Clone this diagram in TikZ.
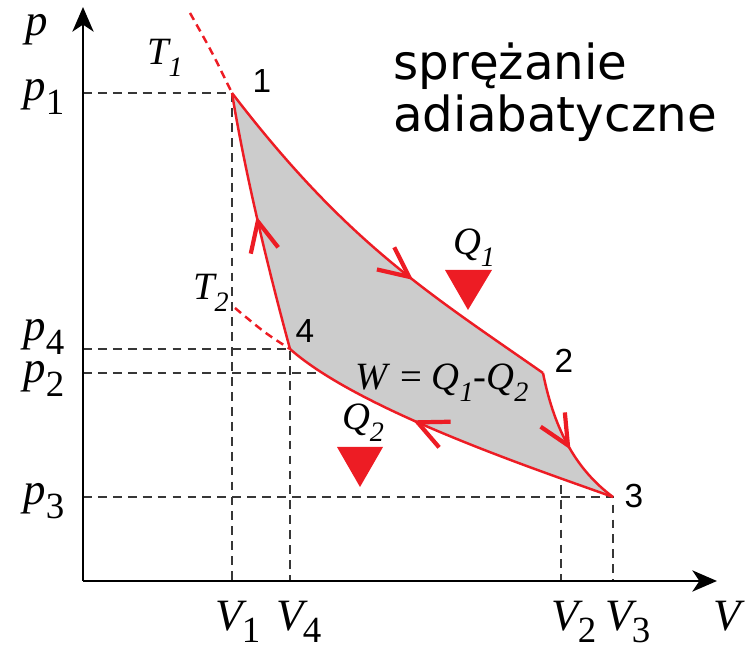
\documentclass[tikz,border=0pt]{standalone}
\usepackage{fontspec}
\setmainfont{Liberation Serif}
\newfontfamily\numfont{Liberation Sans}
\newfontfamily\notefont{DejaVu Sans}
\usetikzlibrary{arrows.meta,decorations.markings}
\definecolor{cyclered}{RGB}{237,28,36}
\definecolor{cyclefill}{RGB}{204,204,204}
\definecolor{guidegray}{RGB}{55,55,55}
\newcommand\axlbl[2]{\textit{#1}\raisebox{-7.5pt}{\fontsize{21}{21}\selectfont #2}}
\newcommand\vollbl[2]{\textit{#1}\kern-3pt\raisebox{-6.5pt}{\fontsize{21}{21}\selectfont #2}}
\newcommand\itlbl[2]{\textit{#1\raisebox{-6.5pt}{\fontsize{16}{16}\selectfont #2}}}
\begin{document}
\begin{tikzpicture}[
  x=0.02cm, y=-0.02cm,
  axis/.style={line width=1.7pt, -{Stealth[length=14pt,width=12pt,inset=4pt]}},
  guide/.style={draw=guidegray, line width=0.8pt, dash pattern=on 5pt off 3.5pt},
  iso/.style={draw=cyclered, line width=1.4pt, dash pattern=on 4.5pt off 3pt},
  leg/.style={draw=cyclered, line width=1.4pt},
  midarrow/.style={postaction={decorate, decoration={markings, mark=at position #1 with {\arrow{Straight Barb[length=17pt,width=16pt,line width=2.4pt,color=cyclered]}}}}},
  axlabel/.style={anchor=base, inner sep=0pt, font=\fontsize{25.5}{25.5}\selectfont},
  sym/.style={anchor=base, inner sep=0pt, font=\fontsize{22}{22}\selectfont},
  num/.style={anchor=base, inner sep=0pt, font=\numfont\fontsize{19}{19}\selectfont},
  note/.style={anchor=base west, inner sep=0pt, font=\notefont\fontsize{27.5}{27.5}\selectfont},
  heat/.style={fill=cyclered}
]
\useasboundingbox (0,0) rectangle (745,648);

\coordinate (O) at (83,581);
\coordinate (ytip) at (83,7);
\coordinate (xtip) at (717,581);
\coordinate (1) at (232,93);
\coordinate (2) at (543,373);
\coordinate (3) at (613,497);
\coordinate (4) at (290,349);
\coordinate (v2top) at (561,440);
\coordinate (t1end) at (190,13);
\coordinate (t2end) at (235,308);

\draw[guide] (O |- 1) -- (1) -- (1 |- O);
\draw[guide] (O |- 4) -- (4) -- (4 |- O);
\draw[guide] (O |- 2) -- (2);
\draw[guide] (O |- 3) -- (3) -- (3 |- O);
\draw[guide] (v2top) -- (v2top |- O);

\fill[cyclefill] (1) .. controls (347,243) and (427,292) .. (2)
  .. controls (555,433) and (578,471) .. (3)
  .. controls (541,471) and (360,411) .. (4)
  .. controls (268,268) and (245,173) .. (1) -- cycle;

\draw[leg, midarrow=0.62] (1) .. controls (347,243) and (427,292) .. (2);
\draw[leg, midarrow=0.56] (2) .. controls (555,433) and (578,471) .. (3);
\draw[leg, midarrow=0.6] (3) .. controls (541,471) and (360,411) .. (4);
\draw[leg, midarrow=0.52] (4) .. controls (268,268) and (245,173) .. (1);
\draw[iso] (t1end) .. controls (212,52) .. (1);
\draw[iso] (t2end) .. controls (265,333) .. (4);

\draw[axis] (O) -- (ytip);
\draw[axis] (O) -- (xtip);

\fill[heat] (445,270) -- (492,270) -- (468,310) -- cycle;
\fill[heat] (337,447) -- (383,447) -- (360,487) -- cycle;

\node[axlabel] (plbl) at (37,36) {\textit{p}};
\node[axlabel] (p1lbl) at (44,101) {\axlbl{p}{1}};
\node[axlabel] (p4lbl) at (44,341) {\axlbl{p}{4}};
\node[axlabel] (p2lbl) at (44,383) {\axlbl{p}{2}};
\node[axlabel] (p3lbl) at (44,505) {\axlbl{p}{3}};
\node[axlabel] (v1lbl) at (238,631) {\vollbl{V}{1}};
\node[axlabel] (v4lbl) at (299,631) {\vollbl{V}{4}};
\node[axlabel] (v2lbl) at (574,631) {\vollbl{V}{2}};
\node[axlabel] (v3lbl) at (628,631) {\vollbl{V}{3}};
\node[axlabel] (vlbl) at (729,631) {\textit{V}};

\node[sym] (t1lbl) at (165,65) {\itlbl{T}{1}};
\node[sym] (t2lbl) at (211,300) {\itlbl{T}{2}};
\node[sym] (q1lbl) at (474,255) {\itlbl{Q}{1}};
\node[sym] (q2lbl) at (363,430) {\itlbl{Q}{2}};
\node[sym] (work) at (442,390) {\textit{W} = \itlbl{Q}{1}-\itlbl{Q}{2}};

\node[num] (n1) at (262,93) {1};
\node[num] (n2) at (564,373) {2};
\node[num] (n3) at (634,508) {3};
\node[num] (n4) at (305,343) {4};

\node[note] (note1) at (393,80) {sprężanie};
\node[note] (note2) at (393,132) {adiabatyczne};
\end{tikzpicture}
\end{document}
